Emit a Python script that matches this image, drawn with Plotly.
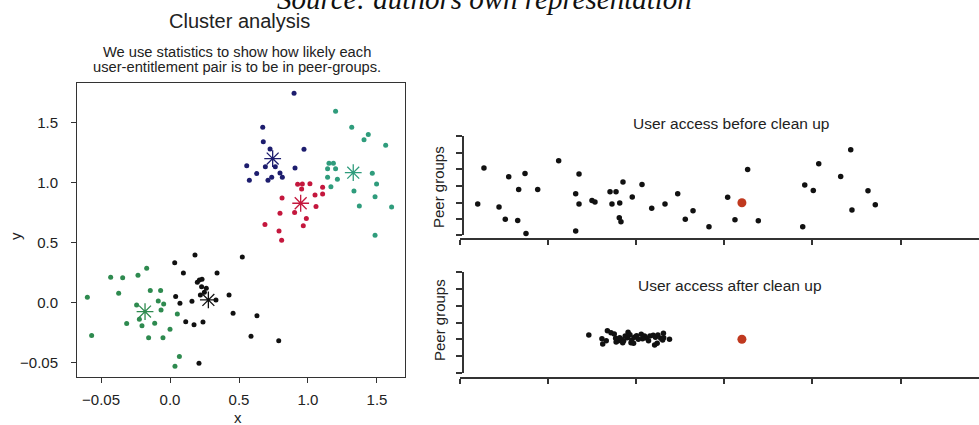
import plotly.graph_objects as go

W, H = 979, 425

# ---------------- Left panel: cluster analysis ----------------
navy_x = [0.899, 0.672, 0.676, 0.725, 0.971, 0.556, 0.691, 0.763, 0.906, 0.628, 0.575, 0.710, 0.737, 0.797, 0.814]
navy_y = [1.747, 1.464, 1.344, 1.283, 1.281, 1.144, 1.136, 1.136, 1.125, 1.078, 1.022, 1.022, 1.047, 1.083, 1.047]

red_x = [0.925, 0.959, 1.014, 0.954, 0.812, 1.106, 1.051, 1.106, 0.688, 0.797, 0.903, 1.058, 0.988, 0.966, 0.790, 0.809]
red_y = [0.989, 0.992, 0.994, 0.950, 0.875, 0.964, 0.900, 0.908, 0.653, 0.747, 0.753, 0.803, 0.703, 0.644, 0.600, 0.522]

teal_x = [1.200, 1.317, 1.406, 1.437, 1.563, 1.152, 1.184, 1.142, 1.200, 1.142, 1.213, 1.166, 1.466, 1.497, 1.333, 1.486, 1.372, 1.606, 1.486]
teal_y = [1.597, 1.464, 1.361, 1.403, 1.314, 1.164, 1.164, 1.119, 1.119, 1.047, 1.031, 0.969, 1.081, 0.992, 0.933, 0.886, 0.808, 0.800, 0.564]

black_x = [0.181, 0.034, 0.524, 0.097, 0.341, 0.198, 0.213, 0.232, 0.229, 0.263, 0.249, 0.220, 0.333,
           0.041, 0.428, 0.072, 0.159, 0.114, 0.174, 0.239, 0.457, 0.630, 0.587, 0.788, 0.210]
black_y = [0.400, 0.336, 0.383, 0.250, 0.250, 0.172, 0.192, 0.197, 0.136, 0.122, 0.089, 0.067, 0.025,
           0.053, 0.067, -0.003, 0.014, -0.156, -0.181, -0.158, -0.086, -0.106, -0.278, -0.314, -0.503]

green_x = [-0.599, -0.568, -0.430, -0.343, -0.232, -0.169, -0.372, -0.242, -0.222, -0.203, -0.314, -0.143,
           -0.068, -0.085, -0.046, -0.065, -0.111, -0.155, -0.051, 0.000, 0.053, 0.068, 0.036]
green_y = [0.047, -0.272, 0.214, 0.211, 0.231, 0.289, 0.081, -0.017, -0.136, -0.189, -0.172, 0.103,
           0.103, 0.017, -0.008, -0.058, -0.169, -0.289, -0.289, -0.219, -0.092, -0.447, -0.528]

center_x = [0.744, 0.947, 1.328, 0.278, -0.181]
center_y = [1.203, 0.831, 1.086, 0.025, -0.072]

cluster_colors = ["#1d1d6e", "#c4173d", "#2f9c7c", "#111111", "#2e8a4f"]

x_tickvals = [-0.5, 0.0, 0.5, 1.0, 1.5]
x_ticktext = ["\u22120.05", "0.0", "0.5", "1.0", "1.5"]
y_tickvals = [-0.5, 0.0, 0.5, 1.0, 1.5]
y_ticktext = ["\u22120.05", "0.0", "0.5", "1.0", "1.5"]

# ---------------- Right panels: peer groups ----------------
before_x = [-0.108, 0.201, 0.272, 0.443, 0.514, 0.553, 0.655, 0.666, 0.738, 0.749, 0.882, 1.120,
            1.313, 1.313, 1.351, 1.351, 1.498, 1.532, 1.703, 1.725, 1.771, 1.813, 1.808, 1.827,
            1.850, 1.955, 2.066, 2.176, 2.327, 2.471, 2.557, 2.645, 2.826, 3.038, 3.121, 3.265,
            3.386, 3.890, 3.913, 4.010, 4.072, 4.321, 4.435, 4.449, 4.631, 4.714]
before_y = [1.006, 1.922, 4.078, 1.743, 1.006, 3.557, 0.946, 2.802, 3.760, 0.162, 2.802, 4.515,
            2.539, 0.305, 3.719, 1.922, 2.144, 2.042, 2.659, 1.922, 2.659, 1.988, 1.108, 0.868,
            3.240, 2.341, 3.101, 1.665, 1.922, 2.539, 1.006, 1.521, 0.563, 2.325, 0.988, 3.994,
            0.928, 0.563, 3.060, 2.737, 4.335, 3.575, 5.174, 1.569, 2.725, 1.886]

after_x = [1.462, 1.673, 1.714, 1.751, 1.611, 1.660, 1.620, 1.767, 1.797, 1.825, 1.858, 1.772,
           1.908, 1.929, 1.900, 1.949, 1.979, 2.004, 1.941, 1.970, 2.057, 2.094, 2.115, 2.156,
           2.193, 2.218, 2.246, 2.279, 2.309, 2.312, 2.300, 2.238, 2.209, 2.378, 1.847, 1.813,
           2.072, 2.140, 2.024, 1.875]
after_y = [2.253, 2.512, 2.393, 2.313, 2.034, 1.915, 1.716, 2.054, 1.915, 1.995, 1.915, 1.835,
           2.413, 2.273, 2.094, 1.955, 2.114, 2.214, 1.795, 1.755, 2.293, 2.194, 2.074, 2.194,
           2.234, 2.114, 2.253, 2.054, 2.353, 2.094, 1.955, 1.755, 1.656, 1.995, 1.795, 2.094,
           2.034, 1.915, 1.995, 2.194]

target_x = [3.2]
target_y = [2.0]

FONT = "Liberation Sans, Arial, sans-serif"
AX = "#333333"


def px_x(p):
    return p / W


def px_y(p):
    return 1 - p / H


fig = go.Figure()

clusters = [(navy_x, navy_y), (red_x, red_y), (teal_x, teal_y), (black_x, black_y), (green_x, green_y)]
for (cx, cy), col in zip(clusters, cluster_colors):
    fig.add_trace(go.Scatter(x=cx, y=cy, mode="markers", xaxis="x", yaxis="y",
                             marker=dict(size=5, color=col), showlegend=False, hoverinfo="skip"))
for i, col in enumerate(cluster_colors):
    fig.add_trace(go.Scatter(x=[center_x[i]], y=[center_y[i]], mode="markers", xaxis="x", yaxis="y",
                             marker=dict(symbol="asterisk-open", size=14, color=col,
                                         line=dict(color=col, width=1.3)),
                             showlegend=False, hoverinfo="skip"))

# right top
fig.add_trace(go.Scatter(x=before_x, y=before_y, mode="markers", xaxis="x2", yaxis="y2",
                         marker=dict(size=5.5, color="#111111"), cliponaxis=False,
                         showlegend=False, hoverinfo="skip"))
fig.add_trace(go.Scatter(x=target_x, y=target_y, mode="markers", xaxis="x2", yaxis="y2",
                         marker=dict(size=9, color="#c0391f"), cliponaxis=False,
                         showlegend=False, hoverinfo="skip"))
# right bottom
fig.add_trace(go.Scatter(x=after_x, y=after_y, mode="markers", xaxis="x3", yaxis="y3",
                         marker=dict(size=5.5, color="#111111"), cliponaxis=False,
                         showlegend=False, hoverinfo="skip"))
fig.add_trace(go.Scatter(x=target_x, y=target_y, mode="markers", xaxis="x3", yaxis="y3",
                         marker=dict(size=9, color="#c0391f"), cliponaxis=False,
                         showlegend=False, hoverinfo="skip"))

tickfont = dict(family=FONT, size=15, color="#222222")

right_x_common = dict(range=[0, (979 - 460) / 88.1], tickvals=[0, 1, 2, 3, 4, 5, 6],
                      showticklabels=False, ticks="outside", ticklen=5, tickwidth=1.5, tickcolor=AX,
                      showline=True, linecolor=AX, linewidth=1.5, showgrid=False, zeroline=False,
                      domain=[px_x(460), 1.0], anchor="free")

fig.update_layout(
    width=W, height=H, autosize=False,
    margin=dict(l=0, r=0, t=0, b=0, autoexpand=False),
    paper_bgcolor="white", plot_bgcolor="white",
    font=dict(family=FONT, color="#222222"),
    xaxis=dict(domain=[px_x(77), px_x(405)], range=[-0.674, 1.703],
               tickvals=x_tickvals, ticktext=x_ticktext, tickfont=tickfont,
               ticks="outside", ticklen=5, tickcolor=AX, ticklabelstandoff=4,
               showline=True, mirror=True, linecolor=AX, linewidth=1,
               showgrid=False, zeroline=False, anchor="y", automargin=False),
    yaxis=dict(domain=[px_y(377), px_y(83)], range=[-0.617, 1.833],
               tickvals=y_tickvals, ticktext=y_ticktext, tickfont=tickfont,
               ticks="outside", ticklen=5, tickcolor=AX, ticklabelstandoff=10,
               showline=True, mirror=True, linecolor=AX, linewidth=1,
               showgrid=False, zeroline=False, anchor="x", automargin=False),
    xaxis2=dict(right_x_common, position=px_y(239)),
    yaxis2=dict(domain=[px_y(234.5), px_y(136)], range=[0.1, 6],
                tickvals=[0.1, 1, 2, 3, 4, 5, 6], showticklabels=False,
                ticks="outside", ticklen=6, tickwidth=1.5, tickcolor=AX,
                showline=True, linecolor=AX, linewidth=1.5, showgrid=False, zeroline=False,
                anchor="free", position=px_x(462.5)),
    xaxis3=dict(right_x_common, position=px_y(378)),
    yaxis3=dict(domain=[px_y(372.7), px_y(272.3)], range=[0, 6],
                tickvals=[0, 1, 2, 3, 4, 5, 6], showticklabels=False,
                ticks="outside", ticklen=6, tickwidth=1.5, tickcolor=AX,
                showline=True, linecolor=AX, linewidth=1.5, showgrid=False, zeroline=False,
                anchor="free", position=px_x(463)),
)

ann = []


def add_text(text, x, y, size, angle=0, family=FONT, italic=False, color="#222222"):
    if italic:
        text = "<i>" + text + "</i>"
    ann.append(dict(text=text, x=px_x(x), y=px_y(y), xref="paper", yref="paper",
                    xanchor="center", yanchor="middle", showarrow=False, textangle=angle,
                    font=dict(family=family, size=size, color=color)))


add_text("Source: authors own representation", 484, -1, 29,
         family="Liberation Serif, Times New Roman, serif", italic=True, color="#111111")
add_text("Cluster analysis", 239, 21, 20)
add_text("We use statistics to show how likely each", 237, 52, 14.7)
add_text("user-entitlement pair is to be in peer-groups.", 237, 67, 14.7)
add_text("x", 238, 417, 15)
add_text("y", 15, 236, 15, angle=-90)
add_text("User access before clean up", 731, 123, 15.5)
add_text("User access after clean up", 730, 285, 15.5)
add_text("Peer groups", 439, 187, 15, angle=-90)
add_text("Peer groups", 439, 320, 15, angle=-90)

fig.update_layout(annotations=ann)

fig.write_html(
    "out.html",
    config={"displayModeBar": False},
    post_script="document.body.style.margin='0px';document.body.style.overflow='hidden';",
)
